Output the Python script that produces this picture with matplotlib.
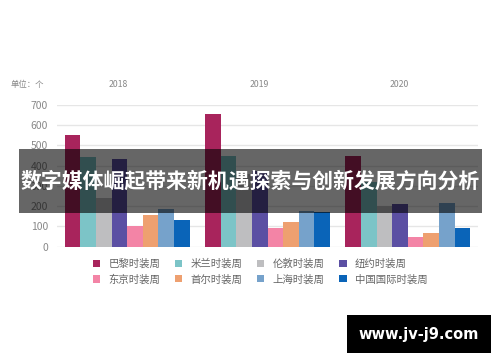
import matplotlib
matplotlib.use("Agg")
import matplotlib.pyplot as plt
from matplotlib.patches import Rectangle, Patch
import numpy as np

plt.rcParams['font.family'] = ['Noto Sans CJK SC', 'DejaVu Sans']

years = ['2018', '2019', '2020']
series_names = ['巴黎时装周', '米兰时装周', '伦敦时装周', '纽约时装周',
                '东京时装周', '首尔时装周', '上海时装周', '中国国际时装周']
paris = [550, 655, 448]
milan = [443, 447, 320]
london = [240, 360, 200]
newyork = [434, 373, 210]
tokyo = [100, 92, 50]
seoul = [156, 124, 70]
shanghai = [186, 178, 215]
china = [130, 172, 90]
series_values = [paris, milan, london, newyork, tokyo, seoul, shanghai, china]
colors = ['#a8245c', '#7cc4c7', '#bebec0', '#5b4fa3',
          '#f384a6', '#eea070', '#76a2cb', '#0a64b8']
yticks = [0, 100, 200, 300, 400, 500, 600, 700]
unit_label = '单位：个'
banner_title = '数字媒体崛起带来新机遇探索与创新发展方向分析'
watermark = 'www.jv-j9.com'

W, H = 500, 362
fig = plt.figure(figsize=(W / 100, H / 100), dpi=100)
fig.patch.set_facecolor('white')

def fx(px):
    return px / W

def fy(py):
    return 1 - py / H

ax = fig.add_axes([fx(57), fy(246.7), fx(478) - fx(57), fy(104.7) - fy(246.7)])

group_gap = 9
centers = np.arange(len(years)) * group_gap
n = len(series_names)
for i, (name, vals, c) in enumerate(zip(series_names, series_values, colors)):
    ax.bar(centers + (i - (n - 1) / 2), vals, width=1.0, color=c, label=name,
           zorder=2, linewidth=0)

ax.set_xlim(-4.5, 22.5)
ax.set_ylim(0, 700)
ax.set_yticks(yticks)
ax.set_yticklabels([str(v) for v in yticks])
ax.grid(axis='y', color='#e6e6e6', linewidth=1.0, zorder=0)
ax.set_axisbelow(True)
for s in ax.spines.values():
    s.set_visible(False)
ax.tick_params(axis='y', length=0, pad=6.5, labelsize=7.5, labelcolor='#888888')

ax.set_xticks(centers - 0.55)
ax.set_xticklabels(years)
ax.tick_params(axis='x', top=True, labeltop=True, bottom=False, labelbottom=False,
               length=0, pad=11.5, labelsize=6.3, labelcolor='#888888')

fig.text(fx(11), fy(84), unit_label, fontsize=6, color='#888888',
         ha='left', va='center')

# legend laid out row by row (4 per row)
ncol = 4
order = [r * ncol + c for c in range(ncol) for r in range(2)]
handles = [Patch(facecolor=colors[k], edgecolor='none') for k in order]
labels = [series_names[k] for k in order]
leg = fig.legend(handles, labels, ncol=ncol, loc='upper left',
                 bbox_to_anchor=(fx(93), fy(258.5)), frameon=False,
                 fontsize=7.5, handlelength=0.7, handleheight=0.7,
                 handletextpad=0.8, columnspacing=1.4, labelspacing=0.5,
                 borderpad=0, borderaxespad=0, labelcolor='#666666')

# banner overlay
fig.add_artist(Rectangle((fx(19), fy(213)), fx(482) - fx(19), fy(149) - fy(213),
                         transform=fig.transFigure, facecolor='black', alpha=0.6,
                         edgecolor='none', zorder=10))
fig.text(fx(250), fy(181.5), banner_title, fontsize=15, fontweight='bold',
         color='white', ha='center', va='center', zorder=11)

# watermark
fig.add_artist(Rectangle((fx(347), fy(353)), fx(491) - fx(347), fy(315) - fy(353),
                         transform=fig.transFigure, facecolor='black',
                         edgecolor='none', zorder=10))
fig.text(fx(419), fy(334), watermark, fontsize=10.5, fontweight='bold',
         family='DejaVu Sans', color='white', ha='center', va='center', zorder=11)

fig.savefig('out.png', dpi=100)
